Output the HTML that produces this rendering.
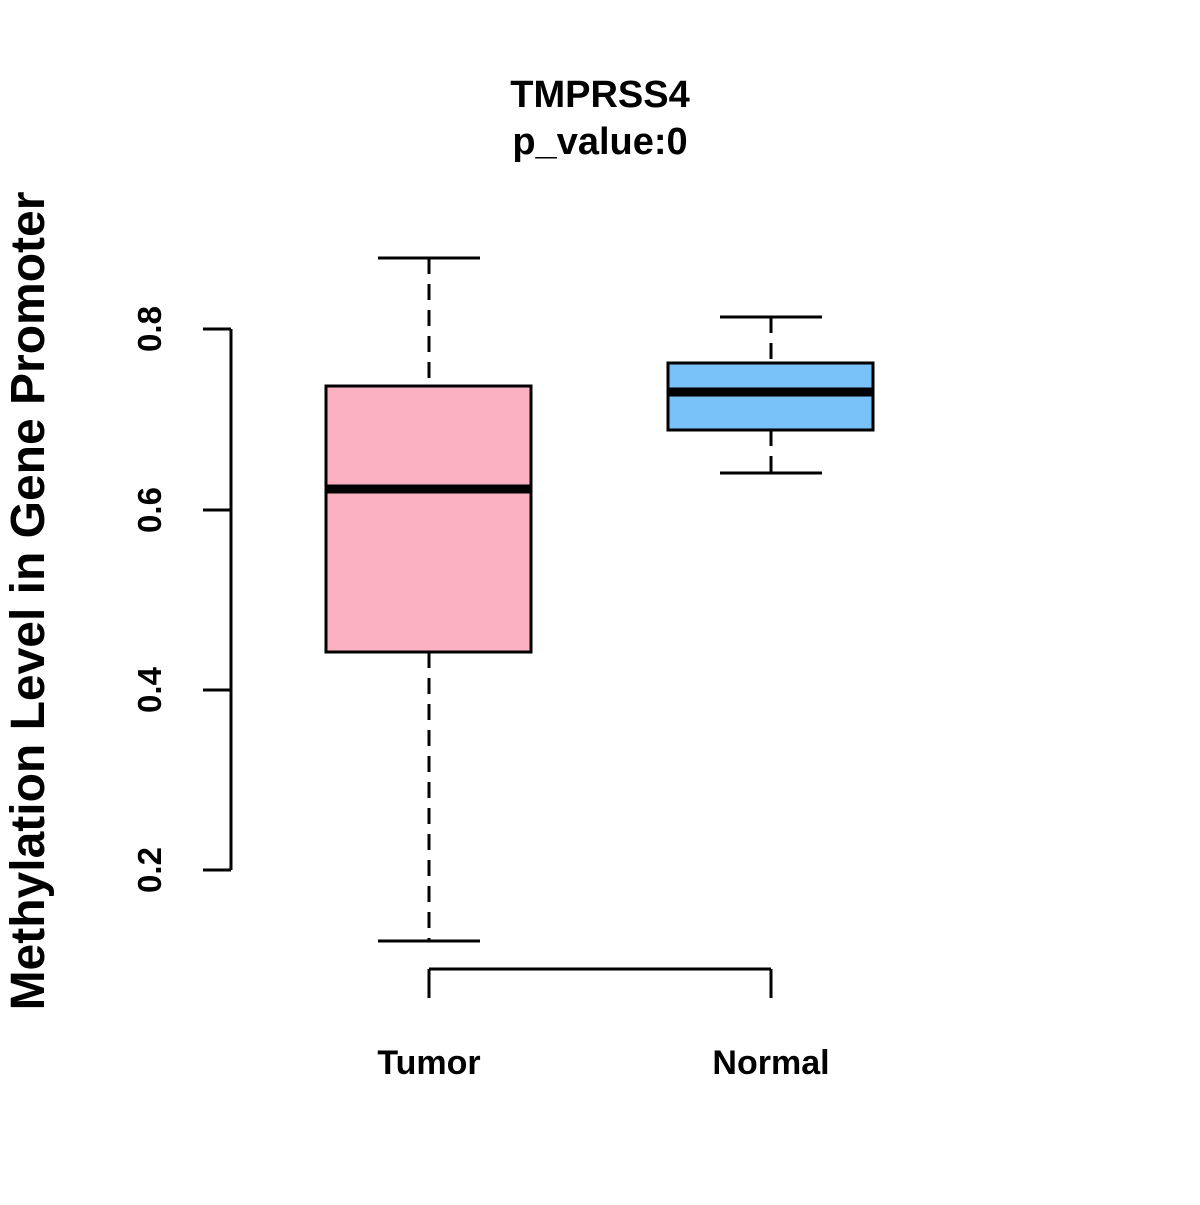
<!DOCTYPE html>
<html><head><style>body{margin:0;background:#fff}</style></head><body>
<svg width="1200" height="1200" viewBox="0 0 1200 1200" xmlns="http://www.w3.org/2000/svg" font-family="Liberation Sans, sans-serif" font-weight="bold">
<rect width="1200" height="1200" fill="#fff"/>
<text x="600" y="107" font-size="38" text-anchor="middle">TMPRSS4</text>
<text x="600" y="154" font-size="38" text-anchor="middle">p_value:0</text>
<g stroke="#000" stroke-width="3" fill="none">
<line x1="231" y1="329" x2="231" y2="870"/>
<line x1="203" y1="329" x2="231" y2="329"/>
<line x1="203" y1="510" x2="231" y2="510"/>
<line x1="203" y1="690" x2="231" y2="690"/>
<line x1="203" y1="870" x2="231" y2="870"/>
<line x1="429" y1="969" x2="771" y2="969"/>
<line x1="429" y1="969" x2="429" y2="998"/>
<line x1="771" y1="969" x2="771" y2="998"/>
<line x1="429" y1="258" x2="429" y2="386" stroke-dasharray="16,10"/>
<line x1="429" y1="652" x2="429" y2="941" stroke-dasharray="16,10"/>
<line x1="378" y1="258" x2="480" y2="258"/>
<line x1="378" y1="941" x2="480" y2="941"/>
<rect x="326" y="386" width="205" height="266" fill="#fcb1c3"/>
<line x1="326" y1="489" x2="531" y2="489" stroke-width="9"/>
<line x1="771" y1="317" x2="771" y2="363" stroke-dasharray="16,10"/>
<line x1="771" y1="430" x2="771" y2="473" stroke-dasharray="16,10"/>
<line x1="720" y1="317" x2="822" y2="317"/>
<line x1="720" y1="473" x2="822" y2="473"/>
<rect x="668" y="363" width="205" height="67" fill="#79c1f9"/>
<line x1="668" y1="392" x2="873" y2="392" stroke-width="9"/>
</g>
<g font-size="33">
<text transform="translate(161,329) rotate(-90)" text-anchor="middle">0.8</text>
<text transform="translate(161,510) rotate(-90)" text-anchor="middle">0.6</text>
<text transform="translate(161,690) rotate(-90)" text-anchor="middle">0.4</text>
<text transform="translate(161,870) rotate(-90)" text-anchor="middle">0.2</text>
</g>
<text x="429" y="1074" font-size="34" text-anchor="middle">Tumor</text>
<text x="771" y="1074" font-size="34" text-anchor="middle">Normal</text>
<text transform="translate(44,601) rotate(-90)" font-size="48" text-anchor="middle">Methylation Level in Gene Promoter</text>
</svg>
</body></html>
